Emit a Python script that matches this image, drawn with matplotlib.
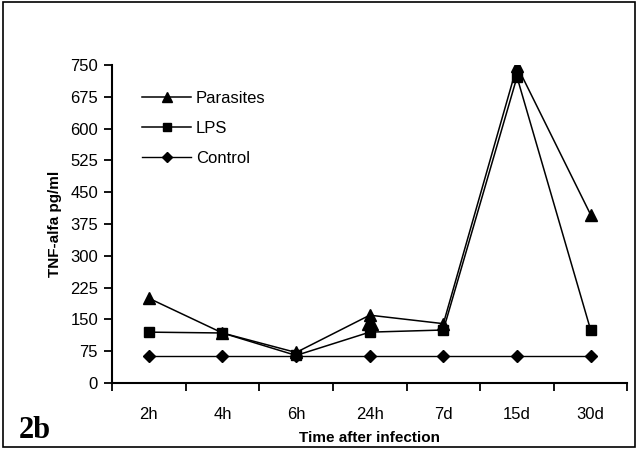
import numpy as np
import matplotlib
matplotlib.use("Agg")
import matplotlib.pyplot as plt
from matplotlib.patches import Rectangle

plt.rcParams['font.family'] = ['Liberation Sans', 'DejaVu Sans']

# data
times = ["2h", "4h", "6h", "24h", "7d", "15d", "30d"]
parasites = [200, 118, 72, 160, 140, 748, 397]
lps = [120, 118, 65, 120, 125, 722, 125]
control = [63, 63, 63, 63, 63, 63, 63]
# the extra (bigger) triangle drawn at 24h in the original
extra_idx = [3]
extra_val = [143]

x = np.arange(len(times))

fig = plt.figure(figsize=(6.38, 4.49), dpi=100)
ax = fig.add_axes([0.1755, 0.147, 0.808, 0.708])

ax.plot(x, control, color='black', lw=1, marker='D', ms=6, label='Control', zorder=3)
ax.plot(x, lps, color='black', lw=1.1, marker='s', ms=7, label='LPS', zorder=4)
ax.plot(x, parasites, color='black', lw=1.1, marker='^', ms=8, label='Parasites', zorder=5)
ax.plot(x[extra_idx], extra_val, color='black', ls='none', marker='^', ms=11, zorder=5)

ax.set_xlim(-0.5, len(times) - 0.5)
ax.set_ylim(0, 750)
ax.set_yticks(np.arange(0, 751, 75))
ax.set_xticks(x)
ax.set_xticklabels(times)
ax.set_xticks(np.arange(-0.5, len(times), 1), minor=True)
ax.tick_params(axis='x', which='major', length=0, pad=17, labelsize=12)
ax.tick_params(axis='x', which='minor', length=6, width=1.3, direction='out')
ax.tick_params(axis='y', length=6, width=1.3, labelsize=12, pad=4)

for s in ['top', 'right']:
    ax.spines[s].set_visible(False)
for s in ['left', 'bottom']:
    ax.spines[s].set_linewidth(1.5)

ax.set_ylabel("TNF-alfa pg/ml", fontweight='bold', fontsize=11, labelpad=6)
ax.set_xlabel("Time after infection", fontweight='bold', fontsize=11, labelpad=7)

h, l = ax.get_legend_handles_labels()
ax.legend(h[::-1], l[::-1], loc='upper left', bbox_to_anchor=(0.03, 0.965),
          frameon=False, fontsize=12, handlelength=2.9, labelspacing=0.9,
          handletextpad=0.3, markerscale=0.85)

fig.text(0.03, 0.025, "2b", family='Liberation Serif', fontweight='bold', fontsize=22)

fig.add_artist(Rectangle((0.004, 0.004), 0.992, 0.992, transform=fig.transFigure,
                         fill=False, edgecolor='black', lw=1.2))

fig.savefig("out.png", dpi=100)
